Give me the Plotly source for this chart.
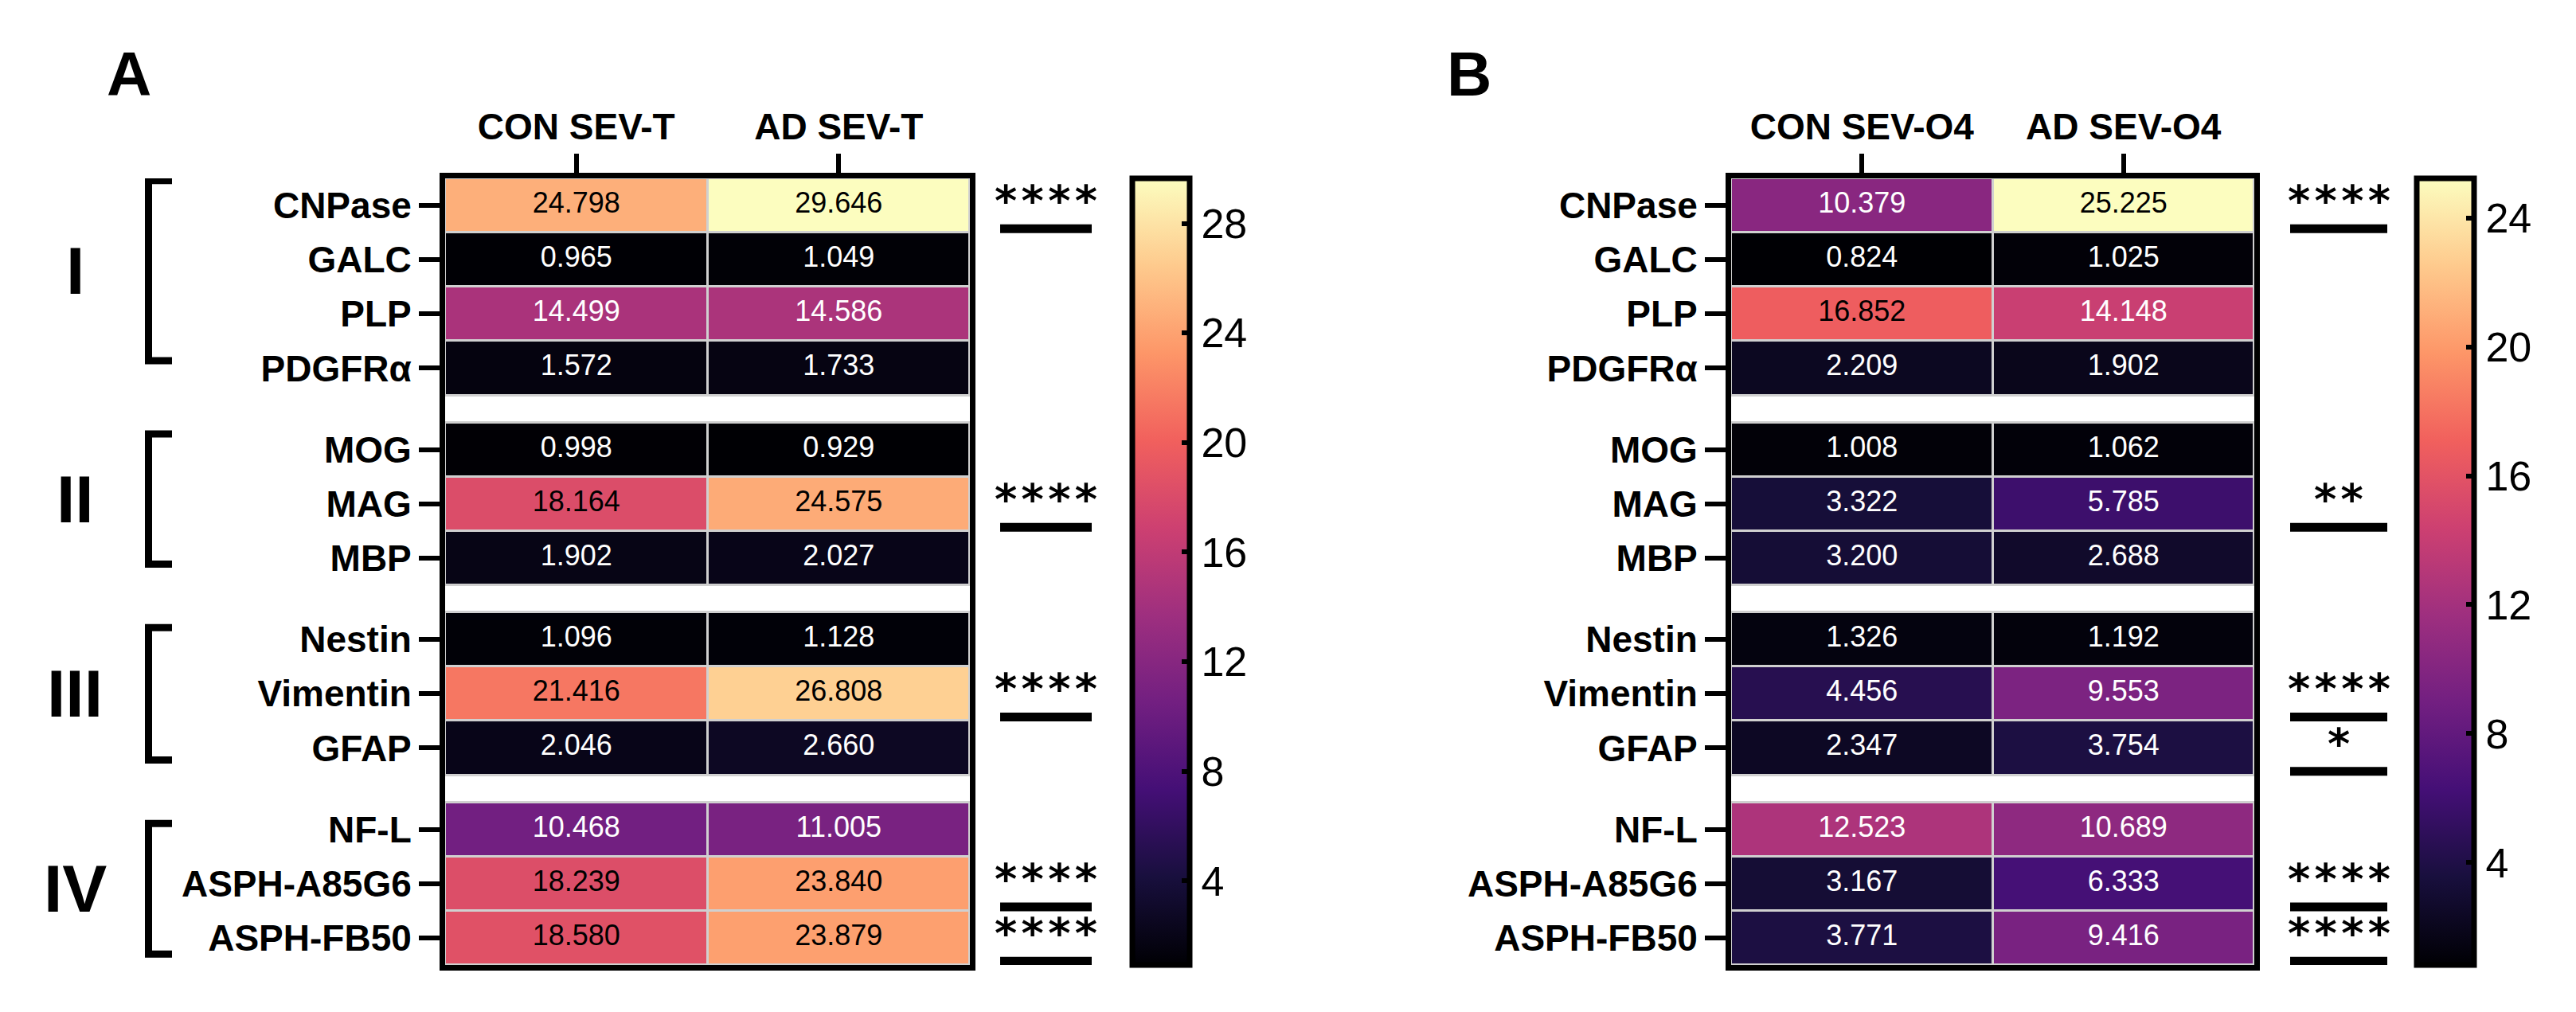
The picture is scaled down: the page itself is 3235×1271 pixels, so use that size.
import plotly.graph_objects as go

# ---------------- data ----------------
groups = ["I", "II", "III", "IV"]
group_rows = [
    ["CNPase", "GALC", "PLP", "PDGFRα"],
    ["MOG", "MAG", "MBP"],
    ["Nestin", "Vimentin", "GFAP"],
    ["NF-L", "ASPH-A85G6", "ASPH-FB50"],
]
cols_A = ["CON SEV-T", "AD SEV-T"]
cols_B = ["CON SEV-O4", "AD SEV-O4"]

con_A = [24.798, 0.965, 14.499, 1.572, 0.998, 18.164, 1.902, 1.096, 21.416, 2.046, 10.468, 18.239, 18.580]
ad_A = [29.646, 1.049, 14.586, 1.733, 0.929, 24.575, 2.027, 1.128, 26.808, 2.660, 11.005, 23.840, 23.879]
con_B = [10.379, 0.824, 16.852, 2.209, 1.008, 3.322, 3.200, 1.326, 4.456, 2.347, 12.523, 3.167, 3.771]
ad_B = [25.225, 1.025, 14.148, 1.902, 1.062, 5.785, 2.688, 1.192, 9.553, 3.754, 10.689, 6.333, 9.416]

cbar_ticks_A = [4, 8, 12, 16, 20, 24, 28]
cbar_ticks_B = [4, 8, 12, 16, 20, 24]

sig_A = {"CNPase": "****", "MAG": "****", "Vimentin": "****", "ASPH-A85G6": "****", "ASPH-FB50": "****"}
sig_B = {"CNPase": "****", "MAG": "**", "Vimentin": "****", "GFAP": "*", "ASPH-A85G6": "****", "ASPH-FB50": "****"}

# ---------------- layout constants ----------------
W, H = 3235, 1271
FONT = "Liberation Sans, Arial, sans-serif"
STAR_FONT = "DejaVu Sans, sans-serif"
ROW, GAP = 1.0, 0.5

def px(x):
    return x / W

def py(y):
    return 1 - y / H

# y bricks (rows + half-height gaps between groups)
edges = [0.0]
kinds = []
labels = []
for gi, rows in enumerate(group_rows):
    if gi > 0:
        edges.append(edges[-1] + GAP)
        kinds.append("gap")
    for r in rows:
        edges.append(edges[-1] + ROW)
        kinds.append("data")
        labels.append(r)
centers = [(edges[i] + edges[i + 1]) / 2 for i in range(len(kinds)) if kinds[i] == "data"]
bottoms = [edges[i + 1] for i in range(len(kinds)) if kinds[i] == "data"]

panels = [
    dict(name="A", cols=cols_A, con=con_A, ad=ad_A, ticks=cbar_ticks_A, sig=sig_A,
         x0=551, x1=1210, cb_x=1414, star_x=1305, line_x=(1248, 1363), letter_x=154, brackets=True),
    dict(name="B", cols=cols_B, con=con_B, ad=ad_B, ticks=cbar_ticks_B, sig=sig_B,
         x0=2166, x1=2823, cb_x=3027, star_x=2929, line_x=(2868, 2990), letter_x=1837, brackets=False),
]
Y0, Y1 = 216, 1204  # inner plot area top/bottom (px)
CB_THICK = 72

fig = go.Figure()
shapes = []
annotations = []

for k, p in enumerate(panels):
    xa = "x" if k == 0 else "x2"
    ya = "y" if k == 0 else "y2"
    vals_all = p["con"] + p["ad"]
    zmin, zmax = min(vals_all), max(vals_all)

    zgap = []
    zmain = []
    di = 0
    for kd in kinds:
        if kd == "gap":
            zgap.append([0])
            zmain.append([None, None])
        else:
            zgap.append([None])
            zmain.append([p["con"][di], p["ad"][di]])
            di += 1
    # white separator rows between groups
    fig.add_trace(go.Heatmap(
        z=zgap, x=[-0.5, 1.5], y=edges, xaxis=xa, yaxis=ya,
        colorscale=[[0, "white"], [1, "white"]], showscale=False,
        ygap=3, hoverinfo="skip"))
    # main heatmap
    fig.add_trace(go.Heatmap(
        z=zmain, x=[0, 1], y=edges, xaxis=xa, yaxis=ya,
        colorscale="Magma", zmin=zmin, zmax=zmax, xgap=3, ygap=3,
        hoverinfo="skip",
        colorbar=dict(
            x=px(p["cb_x"]), xanchor="left", xpad=0,
            y=py(Y1), yanchor="bottom", ypad=0,
            len=Y1 - Y0, lenmode="pixels",
            thickness=CB_THICK, thicknessmode="pixels",
            outlinewidth=7, outlinecolor="black",
            ticks="inside", ticklen=13, tickwidth=6, tickcolor="black",
            tickvals=p["ticks"],
            tickfont=dict(family=FONT, size=52, color="black"),
        )))

    # cell values (text); its marker colorbar only supplies the left-side notches
    tx, ty, tt, tc, mc = [], [], [], [], []
    for ci, series in enumerate([p["con"], p["ad"]]):
        for ri, v in enumerate(series):
            tx.append(ci)
            ty.append(centers[ri])
            tt.append(f"{v:.3f}")
            tc.append("black" if (v - zmin) / (zmax - zmin) > 0.57 else "white")
            mc.append(v)
    fig.add_trace(go.Scatter(
        x=tx, y=ty, text=tt, mode="text", xaxis=xa, yaxis=ya,
        textfont=dict(family=FONT, size=36, color=tc),
        textposition="middle center", hoverinfo="skip", showlegend=False,
        marker=dict(color=mc, colorscale="Magma", cmin=zmin, cmax=zmax, showscale=True,
                    colorbar=dict(
                        x=px(p["cb_x"] - 1), xanchor="left", xpad=0,
                        y=py(Y1), yanchor="bottom", ypad=0,
                        len=Y1 - Y0, lenmode="pixels",
                        thickness=1, thicknessmode="pixels",
                        outlinewidth=0,
                        ticks="outside", ticklen=16, tickwidth=6, tickcolor="black",
                        tickvals=p["ticks"], showticklabels=False))))

    axname = "xaxis" if k == 0 else "xaxis2"
    ayname = "yaxis" if k == 0 else "yaxis2"
    fig.layout[axname] = dict(
        domain=[px(p["x0"]), px(p["x1"])], anchor=ya, range=[-0.5, 1.5],
        side="top", tickvals=[0, 1], ticktext=p["cols"],
        ticks="outside", ticklen=24, tickwidth=6, tickcolor="black",
        showline=True, linewidth=7, linecolor="black", mirror=True,
        showgrid=False, zeroline=False,
        tickfont=dict(family=FONT, size=46, color="black", weight="bold"))
    fig.layout[ayname] = dict(
        domain=[py(Y1), py(Y0)], anchor=xa, range=[edges[-1], 0],
        tickvals=centers, ticktext=labels,
        ticks="outside", ticklen=26, tickwidth=6, tickcolor="black",
        showline=True, linewidth=7, linecolor="black", mirror=True,
        showgrid=False, zeroline=False,
        tickfont=dict(family=FONT, size=46, color="black", weight="bold"))

    # panel letter
    annotations.append(dict(
        text=p["name"], x=px(p["letter_x"]), y=py(85), xref="paper", yref="paper",
        showarrow=False, xanchor="center", yanchor="middle",
        font=dict(family=FONT, size=78, color="black", weight="bold")))

    # significance marks
    for ri, lab in enumerate(labels):
        if lab in p["sig"]:
            annotations.append(dict(
                text="\u200a".join(p["sig"][lab]), x=px(p["star_x"]), y=centers[ri] - 0.08,
                xref="paper", yref=ya, showarrow=False,
                xanchor="center", yanchor="middle",
                font=dict(family=STAR_FONT, size=54, color="black", weight="bold")))
            yl = bottoms[ri] - 0.07
            shapes.append(dict(
                type="line", xref="paper", yref=ya,
                x0=px(p["line_x"][0]), x1=px(p["line_x"][1]), y0=yl, y1=yl,
                line=dict(color="black", width=11)))

    # group brackets
    if p["brackets"]:
        spans = [(-0.46, -0.14), (-0.29, 0.11), (-0.22, 0.22), (-0.11, 0.30)]
        idx = 0
        for gi, rows in enumerate(group_rows):
            first = centers[idx]
            last = centers[idx + len(rows) - 1]
            idx += len(rows)
            ya0 = first + spans[gi][0]
            ya1 = last + spans[gi][1]
            xv, xa_end = px(178.5), px(208)
            shapes.append(dict(
                type="path", xref="paper", yref=ya,
                path=f"M {xa_end},{ya0} L {xv},{ya0} L {xv},{ya1} L {xa_end},{ya1}",
                line=dict(color="black", width=9)))
            annotations.append(dict(
                text=groups[gi], x=px(86), y=(ya0 + ya1) / 2,
                xref="paper", yref=ya, showarrow=False,
                xanchor="center", yanchor="middle",
                font=dict(family=FONT, size=84, color="black", weight="bold")))

fig.update_layout(
    width=W, height=H, margin=dict(l=0, r=0, t=0, b=0),
    paper_bgcolor="white", plot_bgcolor="#d0d0d0",
    showlegend=False, shapes=shapes, annotations=annotations)

fig.write_html("out.html")
